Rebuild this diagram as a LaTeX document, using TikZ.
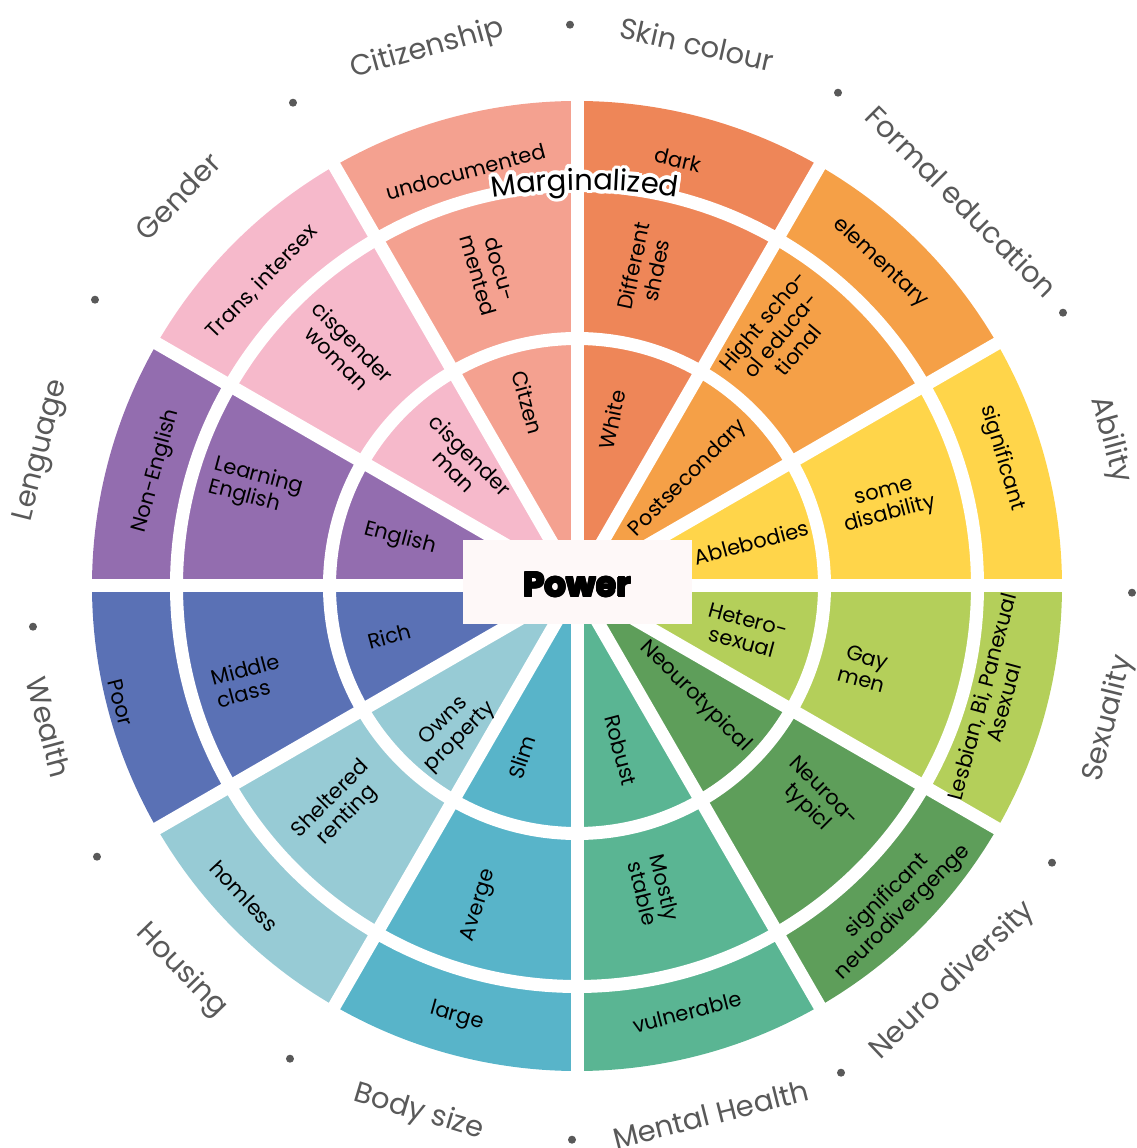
\documentclass[tikz,border=0pt]{standalone}
\usepackage{fontspec}
\setmainfont{Poppins}
\usetikzlibrary{decorations.text}
\definecolor{cAbil}{HTML}{FFD54A}
\definecolor{cForm}{HTML}{F5A047}
\definecolor{cSkin}{HTML}{EE8658}
\definecolor{cCit}{HTML}{F4A190}
\definecolor{cGen}{HTML}{F6B9CB}
\definecolor{cLan}{HTML}{936DAF}
\definecolor{cWea}{HTML}{5A71B5}
\definecolor{cHou}{HTML}{97CBD5}
\definecolor{cBod}{HTML}{58B4C9}
\definecolor{cMen}{HTML}{5AB593}
\definecolor{cNeu}{HTML}{5E9E5A}
\definecolor{cSex}{HTML}{B4CF5A}
\definecolor{labgray}{HTML}{595959}
\definecolor{powerbg}{HTML}{FEF8F8}
\newcommand\margfont{\fontsize{29}{30}\selectfont}
\begin{document}
\begin{tikzpicture}[x=1pt,y=1pt,
  inlab/.style={font=\fontsize{21}{23}\selectfont, align=center, inner sep=0pt, text=black},
  outlab/.style={font=\fontsize{29}{32}\selectfont, text=labgray, inner sep=0pt},
  powertxt/.style={font=\fontsize{34}{36}\selectfont\bfseries, inner sep=0pt, text=black},
  gapline/.style={white, line width=13pt},
  dotmark/.style={fill=labgray, circle, inner sep=0pt, minimum size=8pt}]
\useasboundingbox (-577,-562) rectangle (559,586);
% sectors
\foreach \c [count=\i from 0] in {cAbil,cForm,cSkin,cCit,cGen,cLan,cWea,cHou,cBod,cMen,cNeu,cSex} {
  \fill[\c] (0,0) -- (\i*30:485) arc[start angle=\i*30, end angle=\i*30+30, radius=485] -- cycle;
}
% gaps
\foreach \a in {0,30,...,330} { \draw[gapline] (0,0) -- (\a:492); }
\draw[gapline] (0,0) circle[radius=400.5];
\draw[gapline] (0,0) circle[radius=247.5];
% power box
\node[fill=powerbg, minimum width=229pt, minimum height=84pt, inner sep=0pt] (power) at (0.5,4.3) {};
\coordinate (pc) at (0.5,1.3);
\foreach \a in {0,45,...,315} {
  \node[powertxt] at ([shift={(\a:0.9)}]pc) {Power};
}
\node[powertxt] (powerlabel) at (pc) {Power};
% inner ring
\node[inlab, rotate=-75] (i1) at (105:190) {Citzen};
\node[inlab, rotate=78] (i2) at (78:170) {White};
\node[inlab, rotate=45] (i3) at (44:155) {Postsecondary};
\node[inlab, rotate=15] (i4) at (14:180) {Ablebodies};
\node[inlab, rotate=-15] (i5) at (-15:174) {Hetero-\\sexual};
\node[inlab, rotate=-45] (i6) at (-43:162) {Neourotypical};
\node[inlab, rotate=-75] (i7) at (-75:170) {Robust};
\node[inlab, rotate=72] (i8) at (-108:180) {Slim};
\node[inlab, rotate=45] (i9) at (-131:190) {Owns\\property};
\node[inlab, rotate=15] (i10) at (-165:194) {Rich};
\node[inlab, rotate=-15] (i11) at (165:183) {English};
\node[inlab, rotate=-45] (i12) at (133:168) {cisgender\\man};
% middle ring
\node[inlab, rotate=-74] (m1) at (105.6:326) {docu-\\mented};
\node[inlab, rotate=78] (m2) at (78:325) {Different\\shdes};
\node[inlab, rotate=50] (m3) at (51:323) {Hight scho-\\ol educa-\\tional};
\node[inlab, rotate=15] (m4) at (14.6:321) {some\\disability};
\node[inlab, rotate=-15] (m5) at (-16:299) {Gay\\men};
\node[inlab, rotate=-45] (m6) at (-42:320) {Neuroa-\\typicl};
\node[inlab, rotate=-76] (m7) at (-75.8:314) {Mostly\\stable};
\node[inlab, rotate=73] (m8) at (-107:334) {Averge};
\node[inlab, rotate=45] (m9) at (-137:325) {Sheltered\\renting};
\node[inlab, rotate=15, align=left] (m10) at (-164:342) {Middle\\class};
\node[inlab, rotate=-15, align=left] (m11) at (163:336) {Learning\\English};
\node[inlab, rotate=-45] (m12) at (134.5:331) {cisgender\\woman};
% outer ring
\node[inlab, rotate=15] (o1) at (105:429) {undocumented};
\node[inlab, rotate=-13] (o2) at (76.7:438) {dark};
\node[inlab, rotate=-43] (o3) at (46.8:443) {elementary};
\node[inlab, rotate=-73] (o4) at (16.8:444) {significant};
\node[inlab, rotate=75] (o5) at (-15.3:431) {Lesbian, Bi, Panexual\\Asexual};
\node[inlab, rotate=45] (o6) at (-45:450) {significant\\neurodivergenge};
\node[inlab, rotate=14.5] (o7) at (-75.5:440) {vulnerable};
\node[inlab, rotate=-15.6] (o8) at (-105.6:447) {large};
\node[inlab, rotate=-47] (o9) at (-137:455) {homless};
\node[inlab, rotate=-75.7] (o10) at (-165.7:471) {Poor};
\node[inlab, rotate=74.7] (o11) at (164.7:436) {Non-English};
\node[inlab, rotate=46] (o12) at (136:438) {Trans, intersex};
% categories
\node[outlab, rotate=-12.5] (c1) at (77.5:555) {Skin colour};
\node[outlab, rotate=15.6] (c2) at (105.6:557) {Citizenship};
\node[outlab, rotate=-45] (c3) at (45:544) {Formal education};
\node[outlab, rotate=-74.7] (c4) at (15.3:553) {Ability};
\node[outlab, rotate=76] (c5) at (-14:548) {Sexuality};
\node[outlab, rotate=43.6] (c6) at (-46.4:545) {Neuro diversity};
\node[outlab, rotate=14.2] (c7) at (-75.8:545) {Mental Health};
\node[outlab, rotate=-16.7] (c8) at (-106.7:550) {Body size};
\node[outlab, rotate=-45.8] (c9) at (-135.8:552) {Housing};
\node[outlab, rotate=-75] (c10) at (-165:547) {Wealth};
\node[outlab, rotate=75.8] (c11) at (165.8:552) {Lenguage};
\node[outlab, rotate=45.7] (c12) at (135.7:558) {Gender};
% dots
\node[dotmark] (d1) at (-7,561.3) {};
\node[dotmark] (d2) at (261,493.3) {};
\node[dotmark] (d3) at (486,273.3) {};
\node[dotmark] (d4) at (555,-6.7) {};
\node[dotmark] (d5) at (475,-276.7) {};
\node[dotmark] (d6) at (264,-486.7) {};
\node[dotmark] (d7) at (-5,-553.7) {};
\node[dotmark] (d8) at (-287,-472.7) {};
\node[dotmark] (d9) at (-480,-270.7) {};
\node[dotmark] (d10) at (-544,-40.7) {};
\node[dotmark] (d11) at (-482,286.3) {};
\node[dotmark] (d12) at (-284,483.3) {};
% Marginalized with white halo
\foreach \r in {1.8,3.6} {
  \foreach \a in {0,22.5,...,337.5} {
    \path[shift={(\a:\r)}, decorate, decoration={text along path, text={|\margfont|Marginalized}, text align=center, text color=white}]
      (8,-204) ++(104:600) arc[start angle=104, end angle=76, radius=600];
  }
}
\path[decorate, decoration={text along path, text={|\margfont|Marginalized}, text align=center, text color=black}]
  (8,-204) ++(104:600) arc[start angle=104, end angle=76, radius=600];
\end{tikzpicture}
\end{document}
